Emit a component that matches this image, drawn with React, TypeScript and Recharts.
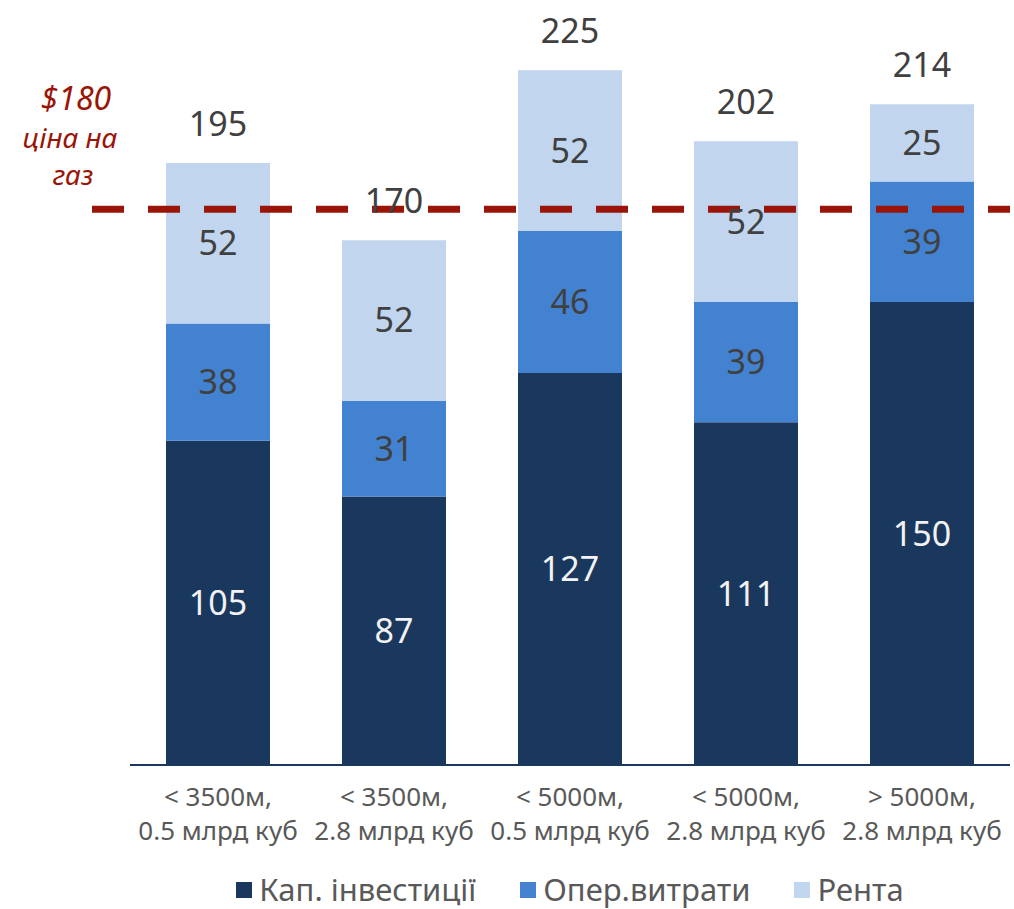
import { BarChart, Bar, XAxis, YAxis, LabelList, Legend, ReferenceLine } from 'recharts';

const categoriesTop = ['< 3500м,', '< 3500м,', '< 5000м,', '< 5000м,', '> 5000м,'];
const categoriesBottom = ['0.5 млрд куб', '2.8 млрд куб', '0.5 млрд куб', '2.8 млрд куб', '2.8 млрд куб'];
const capex = [105, 87, 127, 111, 150];
const opex = [38, 31, 46, 39, 39];
const rent = [52, 52, 52, 52, 25];
const totals = [195, 170, 225, 202, 214];
const gasPrice = 180;

const FONT = '"Noto Sans", sans-serif';
const GREY = '#595959';
const RED = '#9B1408';

const SERIES = [
  { key: 'capex', name: 'Кап. інвестиції', color: '#1A375E', text: '#F2F2F2' },
  { key: 'opex', name: 'Опер.витрати', color: '#4382D0', text: '#404040' },
  { key: 'rent', name: 'Рента', color: '#C1D5EE', text: '#404040' },
];

const data = categoriesTop.map((c, i) => ({
  name: c,
  sub: categoriesBottom[i],
  capex: capex[i],
  opex: opex[i],
  rent: rent[i],
  total: totals[i],
}));

const CategoryTick = (props: any) => {
  const { x, y, index } = props;
  return (
    <g>
      <text x={x} y={y} dy={33} textAnchor="middle" fill={GREY} fontSize={26} fontFamily={FONT}>
        {categoriesTop[index]}
      </text>
      <text x={x} y={y} dy={67} textAnchor="middle" fill={GREY} fontSize={26} fontFamily={FONT}>
        {categoriesBottom[index]}
      </text>
    </g>
  );
};

const PriceLine = (props: any) => {
  const { x1, x2, y1 } = props;
  return (
    <g>
      <line x1={x1 - 38} x2={x2} y1={y1} y2={y1} stroke={RED} strokeWidth={7} strokeDasharray="32 24" />
      <text x={76} y={y1 - 99} textAnchor="middle" fill={RED} fontSize={32} fontStyle="italic" fontFamily={FONT}>
        ${gasPrice}
      </text>
      <text x={70} y={y1 - 61} textAnchor="middle" fill={RED} fontSize={28} fontStyle="italic" fontFamily={FONT}>
        ціна на
      </text>
      <text x={73} y={y1 - 24} textAnchor="middle" fill={RED} fontSize={28} fontStyle="italic" fontFamily={FONT}>
        газ
      </text>
    </g>
  );
};

const LegendContent = () => (
  <div style={{ display: 'flex', justifyContent: 'center', alignItems: 'center', fontFamily: FONT, fontSize: 31, lineHeight: '39px', height: 39, color: GREY }}>
    {SERIES.map((s, i) => (
      <div key={s.key} style={{ display: 'flex', alignItems: 'center', marginRight: i < SERIES.length - 1 ? 44 : 0 }}>
        <span style={{ width: 16, height: 16, background: s.color, display: 'inline-block', marginRight: 7 }} />
        <span>{s.name}</span>
      </div>
    ))}
  </div>
);

export default function App() {
  return (
    <div style={{ position: 'absolute', left: 0, top: 0, background: '#fff' }}>
      <BarChart width={1014} height={909} data={data} margin={{ top: 24, right: 4, left: 130, bottom: 0 }} barSize={104}>
        <XAxis
          dataKey="name"
          tick={<CategoryTick />}
          tickLine={false}
          axisLine={{ stroke: '#1A375E', strokeWidth: 2 }}
          height={105}
          interval={0}
        />
        <YAxis hide domain={[0, 240]} />
        {SERIES.map((s, i) => (
          <Bar key={s.key} dataKey={s.key} name={s.name} stackId="a" fill={s.color} isAnimationActive={false}>
            <LabelList dataKey={s.key} position="center" fill={s.text} fontSize={34} fontFamily={FONT} />
            {i === SERIES.length - 1 && (
              <LabelList dataKey="total" position="top" offset={27} fill="#404040" fontSize={34} fontFamily={FONT} />
            )}
          </Bar>
        ))}
        <ReferenceLine y={gasPrice} shape={<PriceLine />} />
        <Legend verticalAlign="bottom" height={39} content={<LegendContent />} />
      </BarChart>
    </div>
  );
}
